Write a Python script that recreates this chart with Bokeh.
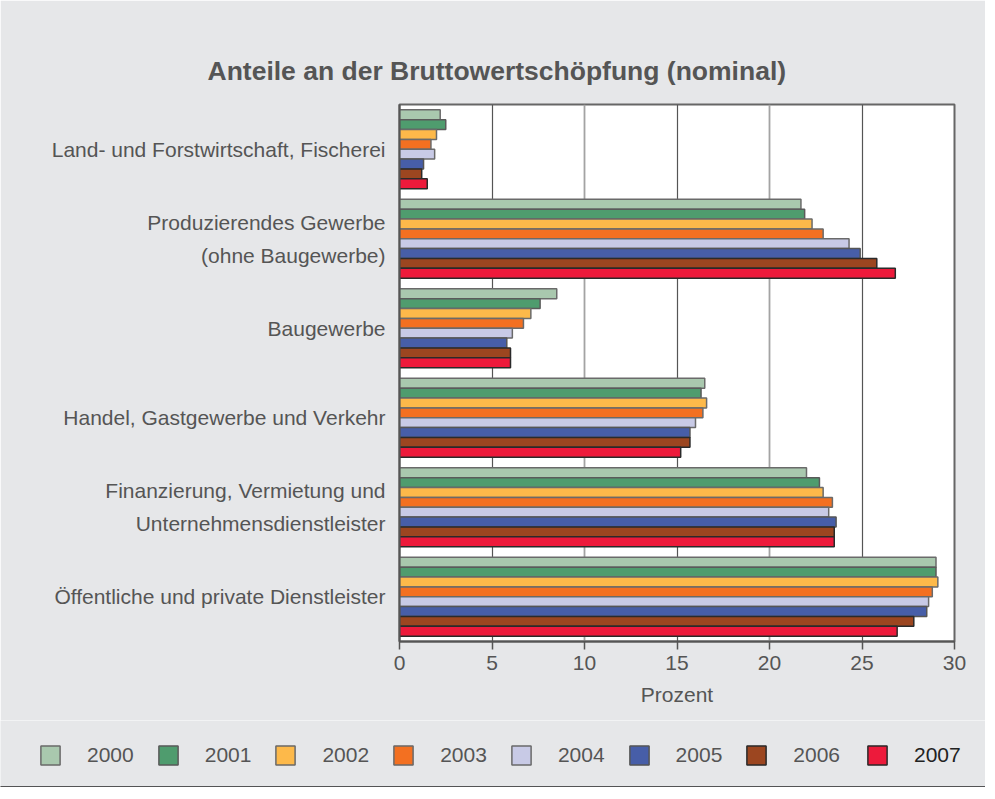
from bokeh.plotting import figure
from bokeh.models import FactorRange, Legend, LegendItem, ColumnDataSource, Grid, FixedTicker
from bokeh.layouts import column
from bokeh.transform import dodge
from bokeh.embed import file_html
from bokeh.resources import INLINE

categories = [
    "Land- und Forstwirtschaft, Fischerei",
    "Produzierendes Gewerbe\n(ohne Baugewerbe)",
    "Baugewerbe",
    "Handel, Gastgewerbe und Verkehr",
    "Finanzierung, Vermietung und\nUnternehmensdienstleister",
    "Öffentliche und private Dienstleister",
]
years = ["2000", "2001", "2002", "2003", "2004", "2005", "2006", "2007"]

v2000 = [2.2, 21.7, 8.5, 16.5, 22.0, 29.0]
v2001 = [2.5, 21.9, 7.6, 16.3, 22.7, 29.0]
v2002 = [2.0, 22.3, 7.1, 16.6, 22.9, 29.1]
v2003 = [1.7, 22.9, 6.7, 16.4, 23.4, 28.8]
v2004 = [1.9, 24.3, 6.1, 16.0, 23.2, 28.6]
v2005 = [1.3, 24.9, 5.8, 15.7, 23.6, 28.5]
v2006 = [1.2, 25.8, 6.0, 15.7, 23.5, 27.8]
v2007 = [1.5, 26.8, 6.0, 15.2, 23.5, 26.9]
series = [v2000, v2001, v2002, v2003, v2004, v2005, v2006, v2007]

x_ticks = [0, 5, 10, 15, 20, 25, 30]
grid_dark = [5, 15, 25]
grid_light = [10, 20]

colors = ["#a9c8ae", "#4f9c6e", "#fdb94a", "#f37021", "#c8cae6", "#475ea8", "#9c4620", "#ed1a3b"]
edges = ["#6a6a6a", "#5a5a5a", "#6a6a6a", "#6a6a6a", "#6a6a6a", "#555555", "#2a2a2a", "#2a2a2a"]

FONT = "Liberation Sans"
TXT = "#555555"
BG = "#e6e7e9"

data = {"cat": categories}
for yr, vals in zip(years, series):
    data["y" + yr] = vals
src = ColumnDataSource(data)

p = figure(width=985, height=720,
           y_range=FactorRange(factors=categories[::-1]),
           x_range=(0, 30),
           output_backend="svg", toolbar_location=None,
           min_border_left=399, min_border_right=31,
           min_border_top=104, min_border_bottom=79)

p.border_fill_color = BG
p.background_fill_color = "white"
p.outline_line_color = "#666666"
p.outline_line_width = 2

# grid: alternating dark / light lines
p.xgrid.grid_line_color = None
p.ygrid.grid_line_color = None
p.add_layout(Grid(dimension=0, ticker=FixedTicker(ticks=grid_dark),
                  grid_line_color="#555555", grid_line_width=1.2))
p.add_layout(Grid(dimension=0, ticker=FixedTicker(ticks=grid_light),
                  grid_line_color="#a3a3a3", grid_line_width=1.8))

step = 0.11
for i, yr in enumerate(years):
    off = (3.5 - i) * step
    p.hbar(y=dodge("cat", off, range=p.y_range), left=0, right="y" + yr,
           height=step, fill_color=colors[i], line_color=edges[i],
           line_width=1.5, source=src)

# title
p.title.text = "Anteile an der Bruttowertschöpfung (nominal)"
p.title.align = "left"
p.title.offset = -192
p.title.text_font = FONT
p.title.text_font_size = "26.5px"
p.title.text_font_style = "bold"
p.title.text_color = TXT
p.title.standoff = 38

# x axis
p.xaxis.ticker = x_ticks
p.xaxis.axis_label = "Prozent"
p.xaxis.axis_label_text_font = FONT
p.xaxis.axis_label_text_font_size = "21px"
p.xaxis.axis_label_text_font_style = "normal"
p.xaxis.axis_label_text_color = TXT
p.xaxis.axis_label_standoff = 10
p.xaxis.major_label_text_font = FONT
p.xaxis.major_label_text_font_size = "21px"
p.xaxis.major_label_text_color = TXT
p.xaxis.major_label_standoff = 6
p.xaxis.major_tick_in = 0
p.xaxis.major_tick_out = 8
p.xaxis.major_tick_line_color = "#555555"
p.xaxis.major_tick_line_width = 1.5
p.xaxis.minor_tick_line_color = None
p.xaxis.axis_line_color = "#555555"
p.xaxis.axis_line_width = 2

# y axis
p.yaxis.major_tick_line_color = None
p.yaxis.minor_tick_line_color = None
p.yaxis.axis_line_color = "#555555"
p.yaxis.axis_line_width = 2
p.yaxis.major_label_text_font = FONT
p.yaxis.major_label_text_font_size = "21px"
p.yaxis.major_label_text_color = TXT
p.yaxis.major_label_text_line_height = 1.45
p.yaxis.major_label_standoff = 8

# legend strip (separate figure so the legend can span the full width)
lg = figure(width=985, height=67, x_range=(0, 1), y_range=(0, 1),
            output_backend="svg", toolbar_location=None,
            min_border=0)
lg.border_fill_color = BG
lg.background_fill_color = BG
lg.outline_line_color = None
lg.axis.visible = False
lg.grid.visible = False
for fig in (p, lg):
    if "frame_align" in fig.properties():
        fig.frame_align = False

items = []
for i, yr in enumerate(years):
    # swatch-only renderer: one bar placed outside the visible range
    r = lg.hbar(y=[-5], left=[0], right=[1], height=0.1, fill_color=colors[i],
                line_color=edges[i], line_width=1.5)
    items.append(LegendItem(label=yr, renderers=[r]))

common = dict(orientation="horizontal", glyph_width=24, glyph_height=24,
              label_standoff=25, spacing=22, padding=0, margin=0,
              border_line_alpha=0, background_fill_alpha=0,
              label_text_font=FONT, label_text_font_size="21px")
leg1 = Legend(items=items[:7], location=(38, 20), label_text_color=TXT, **common)
leg2 = Legend(items=items[7:], location=(865, 20), label_text_color="#222222", **common)
lg.add_layout(leg1, "center")
lg.add_layout(leg2, "center")

layout = column(p, lg, spacing=0)
open("out.html", "w").write(file_html(layout, INLINE))
